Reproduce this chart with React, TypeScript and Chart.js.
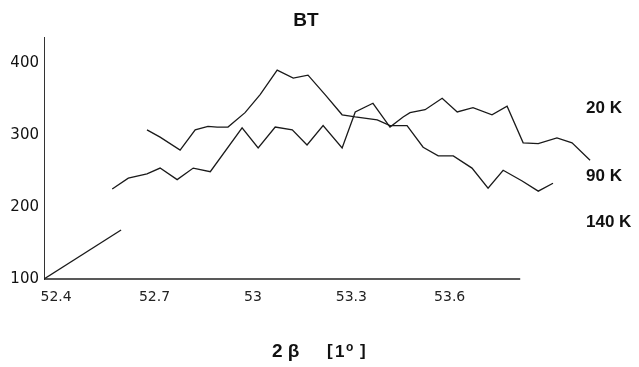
import React, { useEffect, useRef } from "react";
import { Chart, registerables } from "chart.js";

Chart.register(...registerables);

// Series 20 K
const s20x = [52.571, 52.620, 52.677, 52.717, 52.769, 52.818, 52.870, 52.967, 53.016, 53.068, 53.120, 53.165, 53.214, 53.272, 53.312, 53.366, 53.418, 53.458, 53.479, 53.525, 53.577, 53.623, 53.671, 53.729, 53.775, 53.824, 53.870, 53.927, 53.973, 54.028];
const s20y = [225, 240, 246, 254, 238, 254, 249, 310, 282, 311, 307, 286, 313, 282, 332, 344, 311, 325, 331, 335, 351, 332, 338, 328, 340, 289, 288, 296, 289, 265];
// Series 90 K
const s90x = [52.677, 52.717, 52.778, 52.824, 52.863, 52.891, 52.924, 52.976, 53.022, 53.074, 53.123, 53.168, 53.220, 53.272, 53.312, 53.379, 53.418, 53.470, 53.519, 53.565, 53.611, 53.668, 53.717, 53.763, 53.821, 53.870, 53.915];
const s90y = [307, 297, 279, 307, 312, 311, 311, 331, 356, 390, 379, 383, 356, 328, 325, 321, 313, 313, 283, 271, 271, 254, 226, 251, 236, 222, 233];
// Series 140 K
const s140x = [52.363, 52.598];
const s140y = [100, 168];

const seriesLabels = ["20 K", "90 K", "140 K"];
const seriesLabelY = [337, 242, 179];

const xTicks = [52.4, 52.7, 53, 53.3, 53.6];
const yTicks = [100, 200, 300, 400];
const xAxisMin = 52.363;
const xAxisEnd = 53.815;

const title = "BT";

function toPts(xs: number[], ys: number[]) {
  return xs.map((x, i) => ({ x, y: ys[i] }));
}

const annotPlugin = {
  id: "annot",
  afterDraw(chart: any) {
    const ctx = chart.ctx;
    const area = chart.chartArea;
    const ys = chart.scales.y;
    const xs = chart.scales.x;
    ctx.save();
    // x axis line (ends before the data does)
    ctx.strokeStyle = "#222";
    ctx.lineWidth = 1.4;
    ctx.beginPath();
    ctx.moveTo(xs.getPixelForValue(xAxisMin), area.bottom);
    ctx.lineTo(xs.getPixelForValue(xAxisEnd), area.bottom);
    ctx.stroke();

    ctx.fillStyle = "#111";
    ctx.textBaseline = "middle";
    // title
    ctx.textAlign = "center";
    ctx.font = "bold 19px 'Liberation Sans', Arial, sans-serif";
    ctx.fillText(title, 306, 21);
    // series labels
    ctx.textAlign = "left";
    ctx.font = "bold 17px 'Liberation Sans', Arial, sans-serif";
    seriesLabels.forEach((t, i) => {
      ctx.fillText(t, 586, ys.getPixelForValue(seriesLabelY[i]));
    });
    // x axis title
    ctx.font = "bold 19px 'Liberation Sans', Arial, sans-serif";
    ctx.fillText("2 \u03B2", 272, 352);
    ctx.font = "bold 17px 'Liberation Sans', Arial, sans-serif";
    ctx.fillText("[", 327, 351);
    ctx.fillText("1", 335, 352);
    ctx.fillText("]", 360, 351);
    ctx.font = "bold 12px 'Liberation Sans', Arial, sans-serif";
    ctx.fillText("o", 346, 348);
    ctx.restore();
  },
};

export default function App() {
  const ref = useRef<HTMLCanvasElement | null>(null);
  useEffect(() => {
    if (!ref.current) return;
    const lineStyle = {
      borderColor: "#1a1a1a",
      borderWidth: 1.3,
      pointRadius: 0,
      tension: 0,
      fill: false,
    };
    const chart = new Chart(ref.current, {
      type: "line",
      data: {
        datasets: [
          { label: seriesLabels[0], data: toPts(s20x, s20y), ...lineStyle },
          { label: seriesLabels[1], data: toPts(s90x, s90y), ...lineStyle },
          { label: seriesLabels[2], data: toPts(s140x, s140y), ...lineStyle },
        ],
      },
      options: {
        animation: false,
        responsive: true,
        maintainAspectRatio: false,
        layout: { padding: { top: 37, right: 45, left: 0, bottom: 0 } },
        plugins: { legend: { display: false }, tooltip: { enabled: false }, title: { display: false } },
        scales: {
          x: {
            type: "linear",
            min: xAxisMin,
            max: 54.04,
            afterBuildTicks: (s: any) => {
              s.ticks = xTicks.map((v) => ({ value: v }));
            },
            afterFit: (s: any) => {
              s.height = 88;
            },
            grid: { display: false, drawTicks: false },
            border: { display: false },
            ticks: {
              padding: 10,
              color: "#222",
              font: { family: "'DejaVu Sans'", size: 14 },
              callback: (v: any) => String(v),
              maxRotation: 0,
              autoSkip: false,
            },
          },
          y: {
            type: "linear",
            min: 100,
            max: 436,
            afterBuildTicks: (s: any) => {
              s.ticks = yTicks.map((v) => ({ value: v }));
            },
            afterFit: (s: any) => {
              s.width = 44;
            },
            grid: { display: false, drawTicks: false },
            border: { display: true, color: "#333", width: 1 },
            ticks: {
              padding: 5,
              color: "#111",
              font: { family: "'DejaVu Sans'", size: 15 },
              callback: (v: any) => String(v),
            },
          },
        },
      },
      plugins: [annotPlugin],
    });
    return () => chart.destroy();
  }, []);
  return (
    <div style={{ position: "fixed", left: 0, top: 0, width: 639, height: 367, background: "#fff" }}>
      <canvas ref={ref} />
    </div>
  );
}
